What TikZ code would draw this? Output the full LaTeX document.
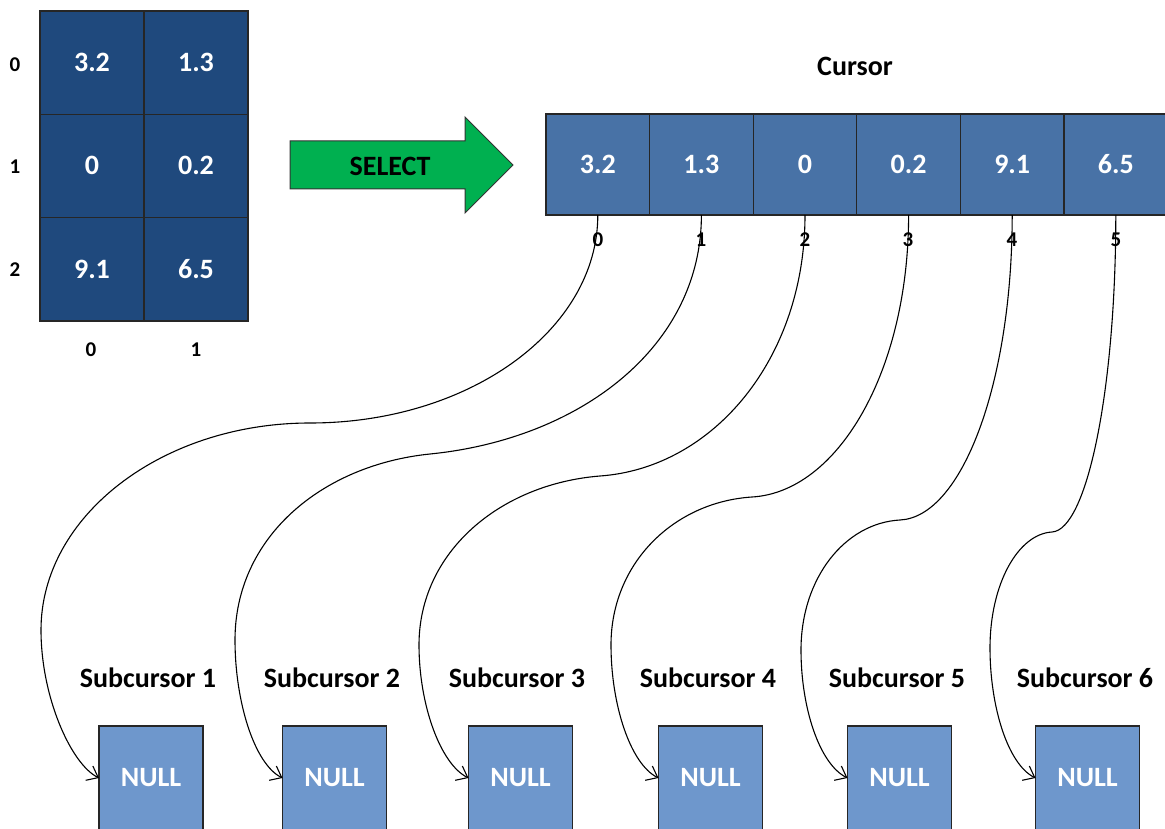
\documentclass[tikz,border=0pt]{standalone}
\usepackage{fontspec}
\setmainfont{Carlito}
\usepackage{tikz}
\usetikzlibrary{arrows.meta,positioning}
\definecolor{matblue}{RGB}{31,73,125}
\definecolor{curblue}{RGB}{72,114,166}
\definecolor{nullblue}{RGB}{110,151,204}
\definecolor{selgreen}{RGB}{0,176,80}
\tikzset{
  % 全部文字: 粗体
  every node/.append style={font=\fontsize{28}{30}\selectfont\bfseries},
  % 矩阵单元
  mcell/.style={
    draw=black!85,
    line width=1.3pt,
    fill=matblue,
    text=white,
    minimum width=104pt,
    minimum height=103.3pt,
    inner sep=0pt,
    outer sep=0pt
  },
  % Cursor 单元
  ccell/.style={mcell, fill=curblue, minimum width=103.6pt, minimum height=101pt},
  % NULL 盒子
  nullbox/.style={mcell, fill=nullblue, minimum height=104pt},
  % 小号下标
  idx/.style={font=\fontsize{21}{23}\selectfont\bfseries},
  % 连线
  link/.style={-{Straight Barb[length=10pt,width=16pt]}, line width=1.1pt, black},
}

\begin{document}
\begin{tikzpicture}[x=1pt, y=-1pt]
        \useasboundingbox (0,0) rectangle (1165,829);
        \clip (0,0) rectangle (1165,829);

        % 二维表
        \node[mcell] (m00) at (92,62.6) {3.2};
        \node[mcell, right=0pt of m00] (m01) {1.3};
        \node[mcell, below=0pt of m00] (m10) {0};
        \node[mcell, right=0pt of m10] (m11) {0.2};
        \node[mcell, below=0pt of m10] (m20) {9.1};
        \node[mcell, right=0pt of m20] (m21) {6.5};
        \node[idx] (r0) at (15,65) {0};
        \node[idx] (r1) at (15,167) {1};
        \node[idx] (r2) at (15,270) {2};
        \node[idx] (k0) at (91,350) {0};
        \node[idx] (k1) at (196,350) {1};

        % SELECT 箭头
        \draw[draw=black!80, line width=1pt, fill=selgreen]
            (290,141) -- (465,141) -- (465,117) -- (513,165)
            -- (465,213) -- (465,189) -- (290,189) -- cycle;
        \node (sel) at (390,166) {SELECT};

        % Cursor
        \node (cur) at (855,66) {Cursor};
        \node[ccell] (c0) at (597.8,164.5) {3.2};
        \node[ccell, right=0pt of c0] (c1) {1.3};
        \node[ccell, right=0pt of c1] (c2) {0};
        \node[ccell, right=0pt of c2] (c3) {0.2};
        \node[ccell, right=0pt of c3] (c4) {9.1};
        \node[ccell, right=0pt of c4] (c5) {6.5};
        \node[idx] (i0) at (598,240) {0};
        \node[idx] (i1) at (701,240) {1};
        \node[idx] (i2) at (805,240) {2};
        \node[idx] (i3) at (908,240) {3};
        \node[idx] (i4) at (1012,240) {4};
        \node[idx] (i5) at (1116,240) {5};

        % Subcursor
        \node (s1) at (148,678) {Subcursor 1};
        \node (s2) at (332,678) {Subcursor 2};
        \node (s3) at (517,678) {Subcursor 3};
        \node (s4) at (708,678) {Subcursor 4};
        \node (s5) at (897,678) {Subcursor 5};
        \node (s6) at (1085,678) {Subcursor 6};
        \node[nullbox] (n1) at (151,778) {NULL};
        \node[nullbox] (n2) at (334.5,778) {NULL};
        \node[nullbox] (n3) at (520.5,778) {NULL};
        \node[nullbox] (n4) at (710.5,778) {NULL};
        \node[nullbox] (n5) at (899.5,778) {NULL};
        \node[nullbox] (n6) at (1087.5,778) {NULL};

        % 连线
        \draw[link] (c0.south) .. controls +(0,115) and +(159,0) .. (310,423)
            .. controls +(-148,0) and +(0,-114) .. (41,630)
            .. controls +(0,67) and +(-28,-14) .. (n1.west);
        \draw[link] (c1.south) .. controls +(0,132) and +(150,-15) .. (430,454)
            .. controls +(-108,11) and +(0,-103) .. (235,640)
            .. controls +(0,62) and +(-28,-14) .. (n2.west);
        \draw[link] (c2.south) .. controls +(0,144) and +(113,-8) .. (600,476)
            .. controls +(-100,8) and +(0,-93) .. (419,645)
            .. controls +(0,60) and +(-28,-14) .. (n3.west);
        \draw[link] (c3.south) .. controls +(0,156) and +(86,-5) .. (752,497)
            .. controls +(-78,5) and +(0,-82) .. (611,645)
            .. controls +(0,60) and +(-28,-14) .. (n4.west);
        \draw[link] (c4.south) .. controls +(0,168) and +(62,-3) .. (900,520)
            .. controls +(-55,3) and +(0,-72) .. (801,650)
            .. controls +(0,58) and +(-28,-14) .. (n5.west);
        \draw[link] (c5.south) .. controls +(0,175) and +(35,-2) .. (1052,532)
            .. controls +(-34,2) and +(0,-64) .. (990,648)
            .. controls +(0,58) and +(-28,-14) .. (n6.west);
    \end{tikzpicture}
\end{document}
